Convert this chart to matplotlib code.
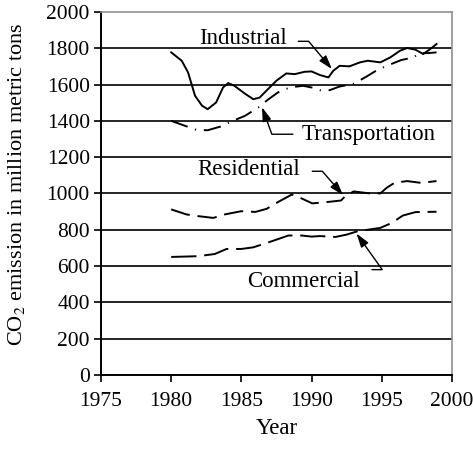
import matplotlib.pyplot as plt

# CO2 emission by sector (million metric tons)
ind_year = [1980.0, 1980.75, 1981.2, 1981.7, 1982.2, 1982.6, 1983.2, 1983.7, 1984.07, 1984.5,
            1985.3, 1985.85, 1986.3, 1986.9, 1987.5, 1988.2, 1988.8, 1989.5, 1990.0, 1990.6,
            1991.2, 1991.55, 1992.0, 1992.7, 1993.45, 1994.0, 1994.9, 1995.6, 1996.3, 1996.8,
            1997.4, 1997.95, 1998.4, 1998.9]
industrial = [1777, 1731, 1667, 1538, 1483, 1464, 1501, 1584, 1608, 1593,
              1547, 1519, 1528, 1575, 1621, 1661, 1657, 1670, 1672, 1652,
              1639, 1676, 1703, 1700, 1722, 1731, 1722, 1749, 1786, 1801,
              1792, 1768, 1792, 1823]

tra_year = [1980.0, 1981.0, 1981.8, 1982.6, 1983.5, 1984.4, 1985.25, 1986.2, 1986.85, 1987.6,
            1988.45, 1989.4, 1990.1, 1990.7, 1991.3, 1992.0, 1992.95, 1993.9, 1994.6, 1995.35,
            1996.4, 1997.25, 1997.7, 1998.3, 1998.9]
transportation = [1400, 1372, 1350, 1348, 1368, 1400, 1427, 1473, 1514, 1556,
                  1584, 1593, 1582, 1566, 1569, 1589, 1602, 1643, 1676, 1703,
                  1735, 1749, 1773, 1773, 1777]

res_year = [1980.0, 1981.1, 1981.9, 1983.0, 1983.8, 1985.0, 1986.0, 1986.8, 1987.6, 1988.6,
            1989.3, 1990.05, 1991.3, 1992.1, 1992.4, 1993.0, 1994.15, 1994.9, 1995.35, 1995.9,
            1996.8, 1997.8, 1998.9]
residential = [912, 884, 875, 865, 884, 902, 898, 915, 952, 994,
               972, 945, 954, 961, 985, 1011, 1000, 1000, 1031, 1058,
               1068, 1058, 1068]

com_year = [1980.0, 1981.9, 1983.1, 1983.95, 1985.0, 1985.85, 1987.15, 1988.35, 1989.3, 1990.0,
            1990.6, 1991.7, 1992.5, 1993.3, 1994.9, 1995.7, 1996.5, 1997.4, 1998.9]
commercial = [650, 654, 666, 694, 694, 703, 736, 768, 768, 762,
              765, 760, 773, 792, 810, 837, 878, 897, 899]

x_ticks = [1975, 1980, 1985, 1990, 1995, 2000]
y_ticks = list(range(0, 2001, 200))

plt.rcParams['font.family'] = ['Liberation Serif', 'DejaVu Serif']
plt.rcParams['mathtext.fontset'] = 'stix'

fig = plt.figure(figsize=(4.73, 4.49), dpi=100)
ax = fig.add_axes([0.2135, 0.165, 0.742, 0.8085])

for y in y_ticks[1:-1]:
    ax.axhline(y, color='black', linewidth=1.2, zorder=1)

ax.plot(ind_year, industrial, color='black', linewidth=1.4, solid_joinstyle='round')
ax.plot(tra_year, transportation, color='black', linewidth=1.4, dashes=(9, 4, 0.6, 4))
ax.plot(res_year, residential, color='black', linewidth=1.4, dashes=(10, 4))
ax.plot(com_year, commercial, color='black', linewidth=1.4, dashes=(13, 4))

ax.set_xlim(1975, 2000)
ax.set_ylim(0, 2000)
ax.set_xticks(x_ticks)
ax.set_yticks(y_ticks)
ax.tick_params(labelsize=15.5, length=5, width=1.2, color='black')
ax.tick_params(axis='x', pad=7)
ax.tick_params(axis='y', pad=3)

for side in ['top', 'right']:
    ax.spines[side].set_color('#909090')
    ax.spines[side].set_linewidth(1.2)
for side in ['left', 'bottom']:
    ax.spines[side].set_linewidth(1.4)

ax.set_xlabel('Year', fontsize=16.5, labelpad=5)
ax.set_ylabel('CO$_2$ emission in million metric tons', fontsize=16)
ax.yaxis.set_label_coords(-0.212, 0.525)

arrow = dict(arrowstyle='-|>,head_length=0.7,head_width=0.22', color='black',
             linewidth=1.0, mutation_scale=12, shrinkA=0, shrinkB=0)

ax.text(1985.15, 1851, 'Industrial', fontsize=16.5, ha='center', va='center')
ax.annotate('', xy=(1991.45, 1685), xytext=(1989.05, 1838),
            arrowprops=dict(arrow, connectionstyle='angle,angleA=0,angleB=-50,rad=0'))

ax.text(1994.05, 1326, 'Transportation', fontsize=16.5, ha='center', va='center')
ax.annotate('', xy=(1986.47, 1475), xytext=(1988.67, 1326),
            arrowprops=dict(arrow, connectionstyle='angle,angleA=0,angleB=110,rad=0'))

ax.text(1985.54, 1133, 'Residential', fontsize=16.5, ha='center', va='center')
ax.annotate('', xy=(1992.25, 990), xytext=(1990.05, 1122),
            arrowprops=dict(arrow, connectionstyle='angle,angleA=0,angleB=-49,rad=0'))

ax.text(1989.46, 514, 'Commercial', fontsize=16.5, ha='center', va='center')
ax.annotate('', xy=(1993.2, 779), xytext=(1994.3, 580),
            arrowprops=dict(arrow, connectionstyle='angle,angleA=0,angleB=125.5,rad=0'))

fig.savefig('out.png', dpi=100)
plt.close(fig)
